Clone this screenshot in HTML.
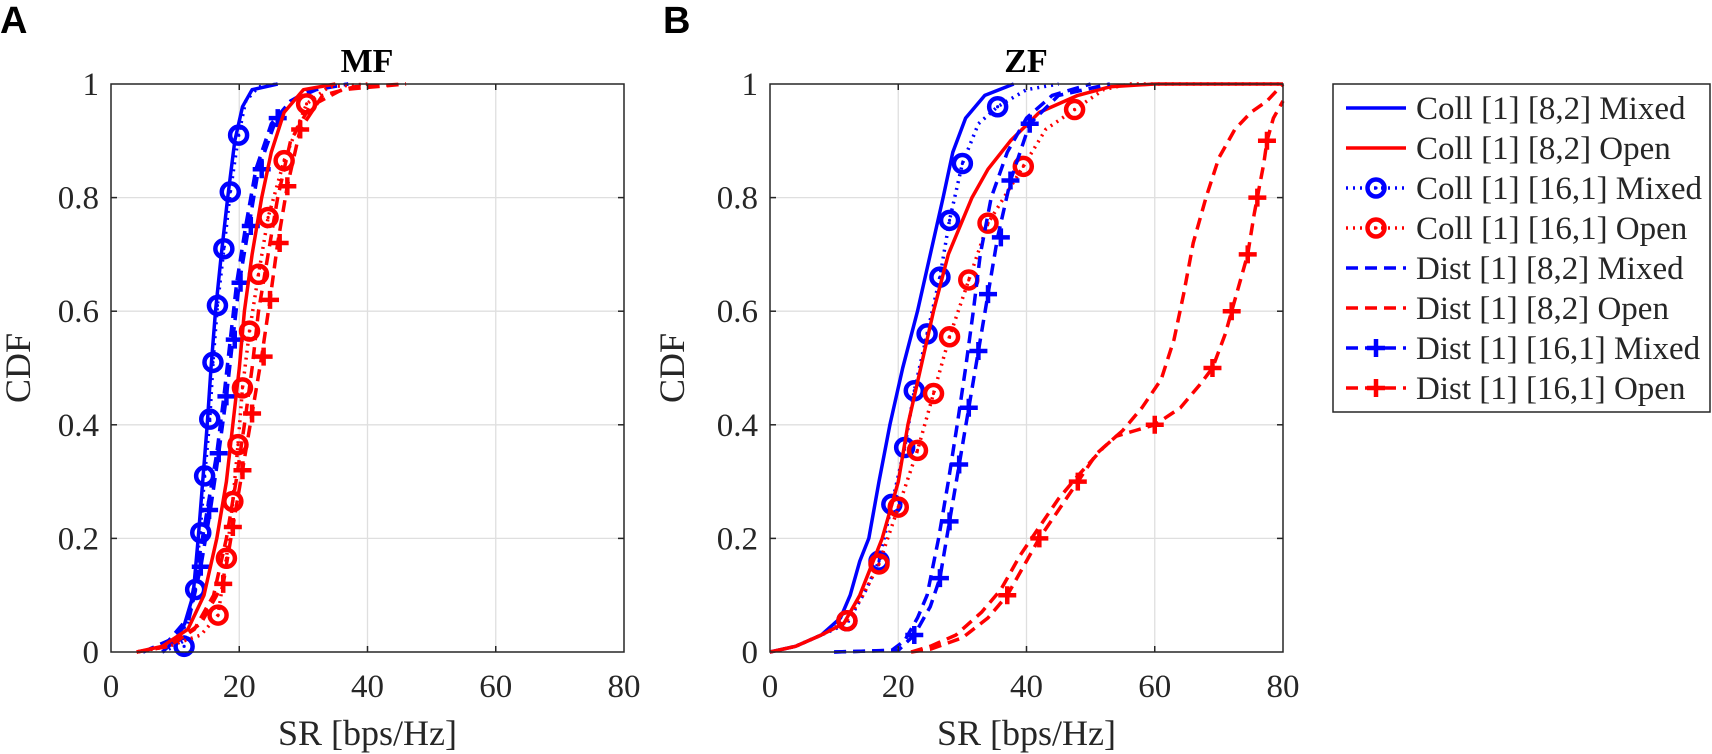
<!DOCTYPE html>
<html><head><meta charset="utf-8"><style>
html,body{margin:0;padding:0;background:#fff;}
svg{display:block;}
text{font-family:"Liberation Serif",serif;fill:#262626;}
</style></head><body>
<svg id="s" width="1712" height="754" viewBox="0 0 1712 754" xmlns="http://www.w3.org/2000/svg">
<text x="0" y="33" style="font-family:'Liberation Sans',sans-serif;font-weight:bold;font-size:38px;fill:#000">A</text>
<text x="663" y="33" style="font-family:'Liberation Sans',sans-serif;font-weight:bold;font-size:38px;fill:#000">B</text>
<text x="367" y="72" text-anchor="middle" style="font-weight:bold;font-size:34px;fill:#000">MF</text>
<text x="1026" y="72" text-anchor="middle" style="font-weight:bold;font-size:34px;fill:#000">ZF</text>
<g id="plots"></g>
<rect x="1333" y="84" width="377" height="328" fill="#fff" stroke="#262626" stroke-width="1.5"/>
<g id="leg"></g>
</svg>
<script>
const NS="http://www.w3.org/2000/svg";
const S=document.getElementById('plots'),L=document.getElementById('leg');
function el(t,a,p){const e=document.createElementNS(NS,t);for(const k in a)e.setAttribute(k,a[k]);(p||S).appendChild(e);return e;}
function txt(x,y,s,a,p){const e=el('text',Object.assign({x:x,y:y},a||{}),p);e.textContent=s;return e;}
const BLUE='#0000ff',RED='#ff0000';
const styles={solid:'',dot:'2,5',dash:'12,7'};
function axes(x0,x1,y0,y1,lbl){
  const W=x1-x0,H=y0-y1;
  for(let i=1;i<4;i++)el('line',{x1:x0+W*i/4,y1:y1,x2:x0+W*i/4,y2:y0,stroke:'#dfdfdf','stroke-width':1.3});
  for(let i=1;i<5;i++)el('line',{x1:x0,y1:y0-H*i/5,x2:x1,y2:y0-H*i/5,stroke:'#dfdfdf','stroke-width':1.3});
  for(let i=0;i<=4;i++)txt(x0+W*i/4,697,String(i*20),{'text-anchor':'middle','font-size':'33px'});
  const yl=['0','0.2','0.4','0.6','0.8','1'];
  for(let i=0;i<=5;i++)txt(x0-12,y0-H*i/5+11,yl[i],{'text-anchor':'end','font-size':'33px'});
  txt((x0+x1)/2,745,'SR [bps/Hz]',{'text-anchor':'middle','font-size':'36px'});
  txt(0,0,'CDF',{'text-anchor':'middle','font-size':'36px',transform:`translate(${lbl},${(y0+y1)/2}) rotate(-90)`});
}
function frame(x0,x1,y0,y1){
  const W=x1-x0,H=y0-y1;
  el('rect',{x:x0,y:y1,width:W,height:H,fill:'none',stroke:'#262626','stroke-width':1.5});
  for(let i=1;i<4;i++){el('line',{x1:x0+W*i/4,y1:y0,x2:x0+W*i/4,y2:y0-6,stroke:'#262626','stroke-width':1.5});el('line',{x1:x0+W*i/4,y1:y1,x2:x0+W*i/4,y2:y1+6,stroke:'#262626','stroke-width':1.5});}
  for(let i=1;i<5;i++){el('line',{x1:x0,y1:y0-H*i/5,x2:x0+6,y2:y0-H*i/5,stroke:'#262626','stroke-width':1.5});el('line',{x1:x1,y1:y0-H*i/5,x2:x1-6,y2:y0-H*i/5,stroke:'#262626','stroke-width':1.5});}
}
function circ(x,y,c,p){el('circle',{cx:x,cy:y,r:8.5,fill:'none',stroke:c,'stroke-width':4.5},p);el('circle',{cx:x,cy:y,r:1.6,fill:c},p);}
function plus(x,y,c,p){el('path',{d:`M${x-9} ${y}H${x+9}M${x} ${y-9}V${y+9}`,stroke:c,'stroke-width':4.5,fill:'none'},p);}
function series(x0,x1,y0,y1,pts,col,st,mk,mpts){
  const sx=v=>x0+(x1-x0)*v/80, sy=v=>y0-(y0-y1)*v;
  let d='';pts.forEach((p,i)=>{d+=(i?'L':'M')+sx(p[0]).toFixed(1)+' '+sy(p[1]).toFixed(1);});
  el('path',{d:d,fill:'none',stroke:col,'stroke-width':3.5,'stroke-dasharray':styles[st],'stroke-linejoin':'round'});
  if(mpts)mpts.forEach(p=>{mk==='o'?circ(sx(p[0]),sy(p[1]),col):plus(sx(p[0]),sy(p[1]),col);});
}
// Panel A
const A=[111,624,652,84];
axes(...A,30);
const aS=[
 [[[8,0],[10,0.02],[11.5,0.05],[12.8,0.1],[13.6,0.2],[14.3,0.3],[15,0.4],[15.6,0.5],[16.3,0.6],[17.2,0.7],[18.2,0.8],[19.3,0.9],[20.5,0.96],[22,0.99],[26,1]],BLUE,'solid'],
 [[[8,0],[10,0.01],[11.4,0.02],[13,0.11],[13.9,0.21],[14.6,0.31],[15.4,0.41],[15.9,0.51],[16.6,0.61],[17.6,0.71],[18.6,0.81],[19.9,0.91],[21,0.97],[23,0.995],[26,1]],BLUE,'dot','o',[[11.4,0.01],[13.2,0.11],[14,0.21],[14.6,0.31],[15.4,0.41],[15.9,0.51],[16.6,0.61],[17.6,0.71],[18.6,0.81],[19.9,0.91]]],
 [[[5,0],[9,0.02],[12,0.06],[13.5,0.15],[15,0.25],[16.5,0.35],[17.6,0.45],[18.6,0.55],[19.6,0.65],[21,0.75],[22.6,0.85],[25,0.93],[28,0.97],[31,0.99],[37,1]],BLUE,'dash'],
 [[[5,0],[9,0.02],[12,0.05],[14,0.15],[15.5,0.25],[16.8,0.35],[18,0.45],[19,0.55],[20,0.65],[21.5,0.75],[23,0.85],[25.5,0.93],[28,0.97],[32,0.99],[37,1]],BLUE,'dash','+',[[14,0.15],[15.3,0.25],[16.8,0.35],[18,0.45],[19.3,0.55],[20.2,0.65],[21.8,0.75],[23.5,0.85],[26,0.94]]],
 [[[4,0],[8,0.01],[12,0.04],[14.5,0.1],[16.5,0.2],[18,0.3],[19,0.4],[20,0.5],[20.8,0.6],[22,0.7],[23.5,0.8],[25,0.88],[27,0.95],[30,0.99],[35,1]],RED,'solid'],
 [[[4,0],[9,0.01],[14,0.03],[16.7,0.065],[18,0.165],[19,0.265],[19.8,0.365],[20.5,0.465],[21.6,0.565],[23,0.665],[24.5,0.765],[27,0.865],[30.5,0.965],[34,0.995],[40,1]],RED,'dot','o',[[16.7,0.065],[18,0.165],[19,0.265],[19.8,0.365],[20.5,0.465],[21.6,0.565],[23,0.665],[24.5,0.765],[27,0.865],[30.5,0.965]]],
 [[[4,0],[9,0.01],[13,0.04],[16,0.1],[18,0.2],[19.5,0.3],[20.8,0.4],[22,0.5],[23,0.6],[24.5,0.7],[26,0.8],[28,0.9],[31,0.96],[36,0.99],[46,1]],RED,'dash'],
 [[[4,0],[9,0.01],[14,0.05],[17.5,0.12],[19,0.22],[20.5,0.32],[22,0.42],[23.5,0.52],[24.8,0.62],[26,0.72],[27.5,0.82],[29.5,0.92],[33,0.98],[38,0.995],[46,1]],RED,'dash','+',[[17.5,0.12],[19,0.22],[20.5,0.32],[22,0.42],[23.8,0.52],[24.8,0.62],[26.3,0.72],[27.5,0.82],[29.5,0.92]]]
];
aS.forEach(s=>series(...A,...s));
frame(...A);
// Panel B
const B=[770,1283,652,84];
axes(...B,684);
const bS=[
 [[[0,0],[4,0.01],[8,0.03],[11,0.06],[12.5,0.1],[14,0.16],[15.4,0.2],[17,0.3],[18.7,0.4],[20.7,0.5],[23,0.6],[25,0.7],[27,0.8],[28.5,0.88],[30.5,0.94],[33.5,0.98],[38,1]],BLUE,'solid'],
 [[[0,0],[4,0.01],[8,0.03],[12,0.05],[15,0.11],[17,0.16],[19,0.26],[21,0.36],[22.5,0.46],[24.5,0.56],[26.5,0.66],[28,0.76],[30,0.86],[32.5,0.93],[35.5,0.96],[40,0.99],[45,1]],BLUE,'dot','o',[[12,0.055],[17,0.16],[19,0.26],[21,0.36],[22.5,0.46],[24.5,0.56],[26.5,0.66],[28,0.76],[30,0.86],[35.5,0.96]]],
 [[[0,0],[4,0.01],[8,0.03],[11.5,0.05],[14,0.1],[17.5,0.2],[20,0.3],[21.5,0.4],[23.5,0.5],[25.5,0.6],[27.8,0.7],[31.5,0.8],[34,0.85],[37.5,0.9],[42,0.95],[48,0.98],[53,0.995],[60,1],[80,1]],RED,'solid'],
 [[[0,0],[4,0.01],[8,0.03],[12,0.055],[14.5,0.1],[17,0.155],[20,0.255],[23,0.355],[25.5,0.455],[28,0.555],[31,0.655],[34,0.755],[39.5,0.855],[43,0.92],[47.5,0.955],[52,0.99],[56,1],[80,1]],RED,'dot','o',[[12,0.055],[17,0.155],[20,0.255],[23,0.355],[25.5,0.455],[28,0.555],[31,0.655],[34,0.755],[39.5,0.855],[47.5,0.955]]],
 [[[10,0],[19,0.003],[21,0.02],[23,0.06],[24.5,0.1],[26.3,0.2],[27.8,0.3],[29.2,0.4],[30.5,0.5],[31.7,0.6],[32.8,0.7],[34.5,0.8],[37,0.88],[40,0.94],[44,0.98],[50,1]],BLUE,'dash'],
 [[[10,0],[20,0.003],[22.5,0.03],[25,0.08],[26.5,0.13],[28,0.23],[29.5,0.33],[31,0.43],[32.5,0.53],[34,0.63],[35.5,0.73],[37.5,0.83],[40.5,0.93],[45,0.98],[53,1]],BLUE,'dash','+',[[22.5,0.03],[26.5,0.13],[28,0.23],[29.5,0.33],[31,0.43],[32.5,0.53],[34,0.63],[36,0.73],[37.5,0.83],[40.5,0.93]]],
 [[[22,0],[25,0.01],[29,0.03],[33,0.07],[36,0.11],[39,0.17],[42,0.22],[45,0.27],[48,0.31],[52,0.36],[55,0.39],[58,0.43],[61,0.48],[63,0.55],[64.5,0.63],[66,0.72],[68,0.8],[70,0.87],[72.5,0.92],[75,0.95],[77.5,0.97],[80,1]],RED,'dash'],
 [[[22,0],[25,0.005],[30,0.025],[34,0.06],[37,0.1],[40,0.16],[42,0.2],[45,0.25],[48,0.3],[51,0.35],[54,0.38],[57,0.39],[60,0.4],[64,0.43],[67,0.47],[69,0.5],[71,0.56],[72,0.6],[73.5,0.66],[74.5,0.7],[75.5,0.77],[76,0.8],[77,0.86],[77.5,0.9],[78.5,0.94],[80,0.97]],RED,'dash','+',[[37,0.1],[42,0.2],[48,0.3],[60,0.4],[69,0.5],[72,0.6],[74.5,0.7],[76,0.8],[77.5,0.9]]]
];
bS.forEach(s=>series(...B,...s));
frame(...B);
// Legend
const leg=[['Coll [1] [8,2] Mixed',BLUE,'solid'],['Coll [1] [8,2] Open',RED,'solid'],['Coll [1] [16,1] Mixed',BLUE,'dot','o'],['Coll [1] [16,1] Open',RED,'dot','o'],['Dist [1] [8,2] Mixed',BLUE,'dash'],['Dist [1] [8,2] Open',RED,'dash'],['Dist [1] [16,1] Mixed',BLUE,'dash','+'],['Dist [1] [16,1] Open',RED,'dash','+']];
leg.forEach((l,i)=>{const y=108+i*40;
  el('line',{x1:1346,y1:y,x2:1406,y2:y,stroke:l[1],'stroke-width':3.5,'stroke-dasharray':styles[l[2]]},L);
  if(l[3]==='o')circ(1376,y,l[1],L);if(l[3]==='+')plus(1376,y,l[1],L);
  txt(1416,y+11,l[0],{'font-size':'33px',fill:'#000'},L);
});
</script>
</body></html>
